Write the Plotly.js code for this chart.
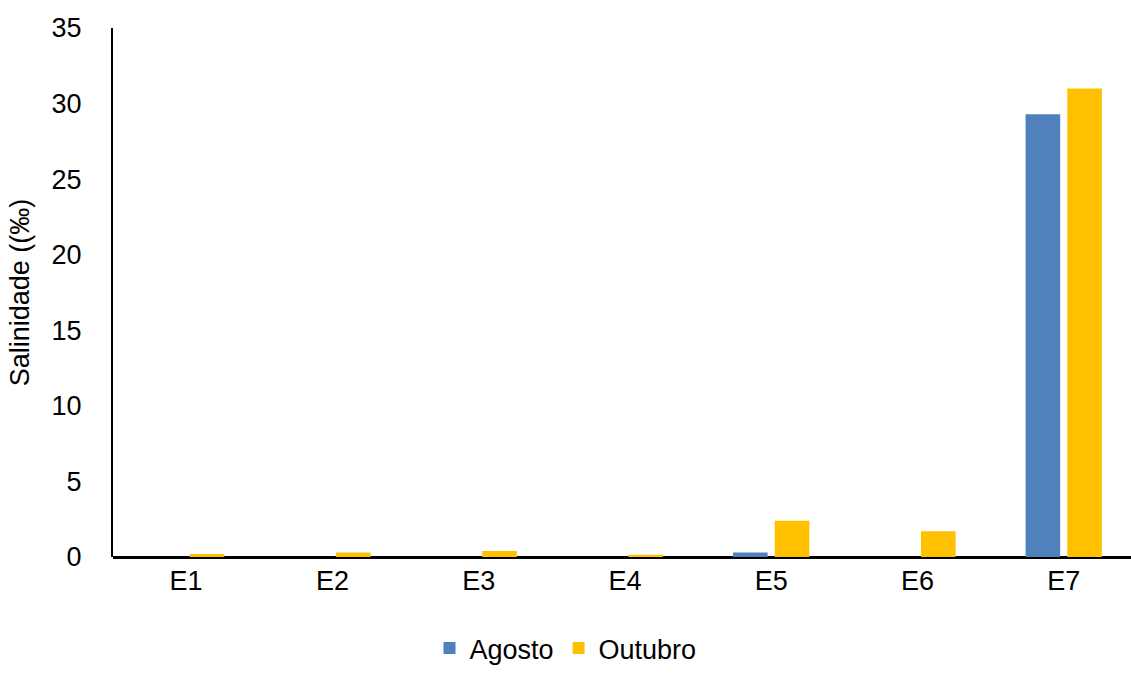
<!DOCTYPE html>
<html>
<head>
<meta charset="utf-8">
<script src="https://cdn.plot.ly/plotly-3.0.1.min.js"></script>
<style>
  html, body { margin: 0; padding: 0; background: #fff; }
  #chart { width: 1131px; height: 673px; }
</style>
</head>
<body>
<div id="chart"></div>
<script>
var estacoes = ['E1', 'E2', 'E3', 'E4', 'E5', 'E6', 'E7'];
var agosto = [0, 0, 0, 0, 0.3, 0, 29.3];
var outubro = [0.2, 0.3, 0.4, 0.15, 2.4, 1.7, 31.0];

var trace1 = {
    x: estacoes,
    y: agosto,
    type: 'bar',
    name: 'Agosto',
    marker: { color: '#4F81BD' }
};

var trace2 = {
    x: estacoes,
    y: outubro,
    type: 'bar',
    name: 'Outubro',
    marker: { color: '#FFC000' }
};

var layout = {
    width: 1131,
    height: 673,
    margin: { l: 113, r: 0, t: 28, b: 116 },
    paper_bgcolor: '#fff',
    plot_bgcolor: '#fff',
    font: { family: 'Liberation Sans, Arial, sans-serif', size: 27, color: '#000' },
    barmode: 'group',
    bargap: 0.43,
    bargroupgap: 0.17,
    showlegend: true,
    legend: {
        orientation: 'h',
        x: 0.5,
        xref: 'container',
        xanchor: 'center',
        y: -0.025,
        yref: 'container',
        yanchor: 'bottom',
        font: { size: 27 },
        itemwidth: 30,
        tracegroupgap: 0
    },
    xaxis: {
        range: [-0.5, 6.46],
        showgrid: false,
        zeroline: false,
        showline: false,
        ticks: '',
        tickfont: { size: 27 },
        ticklabelstandoff: 5
    },
    yaxis: {
        title: { text: 'Salinidade ((‰)', font: { size: 27 }, standoff: 14 },
        range: [0, 35],
        dtick: 5,
        showgrid: false,
        zeroline: true,
        zerolinecolor: '#000',
        zerolinewidth: 3,
        showline: true,
        linecolor: '#000',
        linewidth: 2,
        ticks: '',
        ticklabelstandoff: 24,
        tickfont: { size: 27 }
    }
};

Plotly.newPlot('chart', [trace1, trace2], layout, { displayModeBar: false });
</script>
</body>
</html>
